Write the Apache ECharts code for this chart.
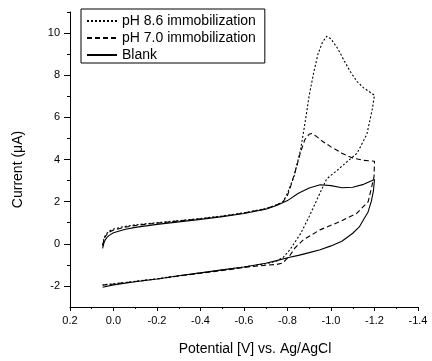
<!DOCTYPE html>
<html>
<head>
<meta charset="utf-8">
<script src="https://cdn.jsdelivr.net/npm/echarts@6/dist/echarts.min.js"></script>
<style>html,body{margin:0;padding:0;background:#fff}#c{width:432px;height:361px}</style>
</head>
<body>
<div id="c"></div>
<script>
// ---- Data (potential V vs. Ag/AgCl, current µA) ----
const seriesNames = ['pH 8.6 immobilization', 'pH 7.0 immobilization', 'Blank'];

const ph86V = [0.05, 0.045, 0.04, 0.03, 0.02, 0.0, -0.05, -0.1, -0.2, -0.3, -0.4, -0.5, -0.6, -0.7, -0.75, -0.78, -0.8, -0.83, -0.86, -0.88, -0.9, -0.92, -0.94, -0.96, -0.98, -1.0, -1.03, -1.06, -1.09, -1.12, -1.15, -1.2,
  -1.19, -1.165, -1.12, -1.08, -1.03, -0.98, -0.94, -0.9, -0.86, -0.81, -0.78, -0.75, -0.7, -0.6, -0.5, -0.4, -0.3, -0.2, -0.1, 0.0, 0.05];
const ph86I = [-0.05, 0.2, 0.35, 0.5, 0.6, 0.7, 0.82, 0.9, 1.0, 1.1, 1.2, 1.32, 1.47, 1.67, 1.85, 2.0, 2.4, 3.2, 4.45, 5.7, 7.05, 8.1, 9.0, 9.55, 9.85, 9.72, 9.28, 8.7, 8.15, 7.7, 7.4, 7.05,
  6.4, 5.2, 4.3, 3.95, 3.5, 3.08, 2.2, 1.3, 0.48, -0.3, -0.65, -0.82, -0.95, -1.1, -1.24, -1.38, -1.52, -1.66, -1.78, -1.9, -1.95];

const ph70V = [0.05, 0.045, 0.04, 0.03, 0.02, 0.0, -0.05, -0.1, -0.2, -0.3, -0.4, -0.5, -0.6, -0.7, -0.75, -0.78, -0.8, -0.82, -0.84, -0.86, -0.88, -0.9, -0.91, -0.93, -0.96, -1.0, -1.05, -1.1, -1.15, -1.2,
  -1.198, -1.187, -1.171, -1.118, -1.041, -0.949, -0.873, -0.834, -0.808, -0.778, -0.75, -0.7, -0.62, -0.5, -0.4, -0.3, -0.2, -0.1, 0.0, 0.05];
const ph70I = [-0.1, 0.15, 0.3, 0.45, 0.55, 0.65, 0.78, 0.87, 0.98, 1.08, 1.18, 1.3, 1.46, 1.66, 1.84, 2.0, 2.3, 2.9, 3.6, 4.35, 4.95, 5.2, 5.23, 5.12, 4.87, 4.6, 4.3, 4.07, 3.96, 3.92,
  3.2, 2.7, 2.0, 1.44, 1.05, 0.66, 0.19, -0.2, -0.6, -0.91, -0.98, -1.02, -1.1, -1.27, -1.4, -1.53, -1.67, -1.79, -1.91, -1.96];

const blankV = [0.05, 0.045, 0.04, 0.03, 0.02, 0.0, -0.05, -0.1, -0.2, -0.3, -0.4, -0.5, -0.6, -0.7, -0.75, -0.8, -0.85, -0.9, -0.95, -1.0, -1.05, -1.1, -1.15, -1.2,
  -1.195, -1.185, -1.17, -1.15, -1.13, -1.1, -1.05, -1.0, -0.95, -0.9, -0.85, -0.8, -0.75, -0.7, -0.6, -0.5, -0.4, -0.3, -0.2, -0.1, 0.0, 0.05];
const blankI = [-0.22, 0.0, 0.15, 0.3, 0.4, 0.52, 0.68, 0.78, 0.92, 1.04, 1.16, 1.29, 1.44, 1.64, 1.82, 2.05, 2.4, 2.65, 2.8, 2.76, 2.66, 2.68, 2.82, 3.05,
  2.5, 2.0, 1.5, 1.15, 0.8, 0.5, 0.12, -0.1, -0.28, -0.42, -0.55, -0.66, -0.8, -0.92, -1.1, -1.24, -1.38, -1.52, -1.67, -1.8, -1.95, -2.06];

const xTickMin = -1.4, xTickMax = 0.2, xTickStep = 0.2;
const yMin = -3, yMax = 11;
const yMajorTicks = [-2, 0, 2, 4, 6, 8, 10];
const yMinorTicks = [-1, 1, 3, 5, 7, 9, 11];

const xName = 'Potential [V] vs. Ag/AgCl';
const yName = 'Current (\u03BCA)';

function pairs(xs, ys) { return xs.map((x, i) => [x, ys[i]]); }

const FONT = "'Liberation Sans', Arial, sans-serif";
const chart = echarts.init(document.getElementById('c'), null, { renderer: 'canvas' });

chart.setOption({
  animation: false,
  backgroundColor: '#fff',
  textStyle: { fontFamily: FONT },
  grid: { left: 70, right: 14, top: 12, bottom: 51 },
  legend: {
    orient: 'vertical',
    left: 81, top: 9,
    padding: [5, 9, 1, 5],
    itemGap: 3,
    itemWidth: 30,
    itemHeight: 14,
    borderColor: '#000',
    borderWidth: 1,
    itemStyle: { color: 'rgba(0,0,0,0)', borderColor: 'rgba(0,0,0,0)', borderWidth: 0, opacity: 0 },
    textStyle: { fontSize: 14, color: '#000', fontFamily: FONT },
    data: seriesNames
  },
  xAxis: {
    type: 'value',
    inverse: true,
    min: xTickMin, max: xTickMax, interval: xTickStep,
    splitLine: { show: false },
    axisLine: { show: true, onZero: false, lineStyle: { color: '#000', width: 1 } },
    axisTick: { show: true, length: 4, lineStyle: { color: '#000' } },
    minorTick: { show: true, splitNumber: 2, length: 2, lineStyle: { color: '#000' } },
    axisLabel: {
      color: '#000', fontSize: 11, margin: 8, fontFamily: FONT,
      formatter: v => (Math.abs(v) < 1e-9 ? '0.0' : v.toFixed(1))
    },
    name: xName,
    nameLocation: 'middle',
    nameGap: 35,
    nameTextStyle: { fontSize: 14, color: '#000', fontFamily: FONT, padding: [0, 0, 0, 22] }
  },
  yAxis: [
    {
      type: 'value',
      min: yMin, max: yMax,
      splitLine: { show: false },
      axisLine: { show: true, onZero: false, lineStyle: { color: '#000', width: 1 } },
      axisTick: { show: true, length: 6, customValues: yMajorTicks, lineStyle: { color: '#000' } },
      axisLabel: { color: '#000', fontSize: 11, margin: 10, customValues: yMajorTicks, fontFamily: FONT },
      name: yName,
      nameLocation: 'middle',
      nameGap: 45,
      nameTextStyle: { fontSize: 14, color: '#000', fontFamily: FONT, padding: [0, 20, 0, 0] }
    },
    {
      type: 'value',
      position: 'left',
      min: yMin, max: yMax,
      splitLine: { show: false },
      axisLine: { show: false, onZero: false },
      axisTick: { show: true, length: 3, customValues: yMinorTicks, lineStyle: { color: '#000' } },
      axisLabel: { show: false }
    }
  ],
  series: [
    {
      name: seriesNames[0], type: 'line', data: pairs(ph86V, ph86I),
      symbol: 'none', smooth: false, color: '#000',
      lineStyle: { color: '#000', width: 1.1, type: [2, 2] }
    },
    {
      name: seriesNames[1], type: 'line', data: pairs(ph70V, ph70I),
      symbol: 'none', smooth: false, color: '#000',
      lineStyle: { color: '#000', width: 1.1, type: [5, 3] }
    },
    {
      name: seriesNames[2], type: 'line', data: pairs(blankV, blankI),
      symbol: 'none', smooth: false, color: '#000',
      lineStyle: { color: '#000', width: 1.1, type: 'solid' }
    }
  ]
});
</script>
</body>
</html>
